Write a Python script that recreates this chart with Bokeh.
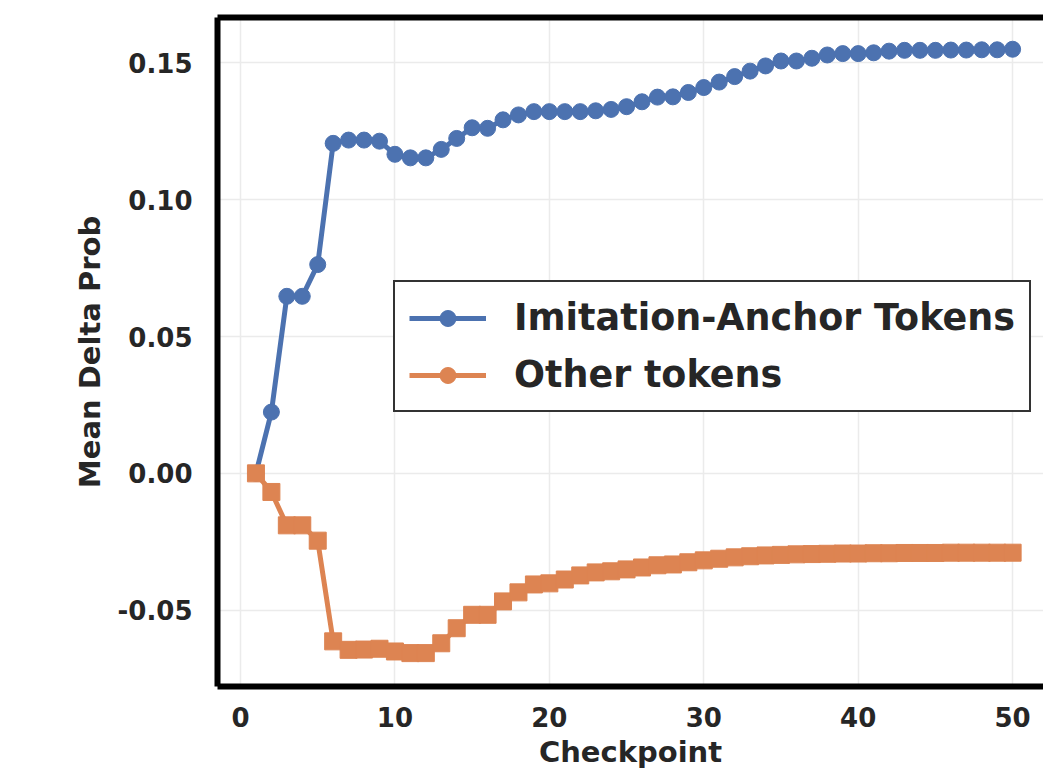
from bokeh.plotting import figure
from bokeh.models import Range1d, LinearAxis, FixedTicker, Legend, LegendItem, NumeralTickFormatter, ColumnDataSource
from bokeh.embed import file_html
from bokeh.resources import INLINE

# ---- data ----
checkpoints = list(range(1, 51))
anchor_tokens = [
    0.0000, 0.0224, 0.0647, 0.0647, 0.0763, 0.1206, 0.1218, 0.1218, 0.1214, 0.1166,
    0.1153, 0.1153, 0.1184, 0.1224, 0.1263, 0.1261, 0.1292, 0.1310, 0.1322, 0.1322,
    0.1322, 0.1322, 0.1325, 0.1330, 0.1340, 0.1358, 0.1375, 0.1376, 0.1392, 0.1410,
    0.1430, 0.1450, 0.1470, 0.1489, 0.1507, 0.1507, 0.1517, 0.1529, 0.1534, 0.1534,
    0.1537, 0.1543, 0.1546, 0.1546, 0.1546, 0.1547, 0.1547, 0.1548, 0.1548, 0.1550,
]
other_tokens = [
    0.0000, -0.0068, -0.0190, -0.0190, -0.0246, -0.0614, -0.0645, -0.0644, -0.0641, -0.0651,
    -0.0657, -0.0657, -0.0621, -0.0566, -0.0517, -0.0517, -0.0468, -0.0435, -0.0406, -0.0402,
    -0.0388, -0.0373, -0.0362, -0.0358, -0.0351, -0.0344, -0.0336, -0.0333, -0.0325, -0.0318,
    -0.0312, -0.0307, -0.0303, -0.0300, -0.0298, -0.0296, -0.0295, -0.0294, -0.0293, -0.0293,
    -0.0292, -0.0292, -0.0291, -0.0291, -0.0291, -0.0290, -0.0290, -0.0290, -0.0290, -0.0290,
]
x_ticks = [0, 10, 20, 30, 40, 50]
y_ticks = [-0.05, 0.0, 0.05, 0.10, 0.15]
series_labels = ["Imitation-Anchor Tokens", "Other tokens"]

BLUE = "#4c72b0"
ORANGE = "#dd8452"
TXT = "#262626"
FONT = "DejaVu Sans"

p = figure(width=1043, height=771,
           x_range=Range1d(-1.49, 52.0), y_range=Range1d(-0.0779, 0.1666),
           output_backend="svg", toolbar_location=None,
           min_border_left=217, min_border_right=0, min_border_top=17, min_border_bottom=0)
p.outline_line_color = None
p.background_fill_color = "white"

# axes
p.xaxis.ticker = FixedTicker(ticks=x_ticks)
p.yaxis.ticker = FixedTicker(ticks=y_ticks)
p.yaxis.formatter = NumeralTickFormatter(format="0.00")
for ax in (p.xaxis, p.yaxis):
    ax.axis_line_width = 6
    ax.axis_line_color = "black"
    ax.major_tick_line_color = None
    ax.minor_tick_line_color = None
    ax.major_label_text_font = FONT
    ax.major_label_text_font_style = "bold"
    ax.major_label_text_font_size = "26px"
    ax.major_label_text_color = TXT
    ax.axis_label_text_font = FONT
    ax.axis_label_text_font_style = "bold"
    ax.axis_label_text_font_size = "29px"
    ax.axis_label_text_color = TXT
p.xaxis.axis_label = "Checkpoint"
p.yaxis.axis_label = "Mean Delta Prob"
p.xaxis.major_label_standoff = 14
p.xaxis.axis_label_standoff = 5
p.yaxis.major_label_standoff = 19
p.yaxis.axis_label_standoff = 8

top = LinearAxis(ticker=FixedTicker(ticks=[]), axis_line_width=6, axis_line_color="black",
                 major_tick_line_color=None, minor_tick_line_color=None,
                 major_label_text_font_size="0px", major_label_standoff=0)
p.add_layout(top, "above")

# grid
p.xgrid.ticker = FixedTicker(ticks=x_ticks)
p.ygrid.ticker = FixedTicker(ticks=y_ticks)
p.grid.grid_line_color = "#ebebeb"
p.grid.grid_line_width = 1.5

src = ColumnDataSource(dict(x=checkpoints, a=anchor_tokens, o=other_tokens))
p.line("x", "a", source=src, line_color=BLUE, line_width=5)
p.scatter("x", "a", source=src, marker="circle", size=16, fill_color=BLUE, line_color=BLUE)
p.line("x", "o", source=src, line_color=ORANGE, line_width=5)
p.scatter("x", "o", source=src, marker="square", size=17, fill_color=ORANGE, line_color=ORANGE)

# legend-only renderers (smaller markers like the reference legend), placed off-range
off = ColumnDataSource(dict(x=[-100, -99], y=[-100, -100]))
lb = p.line("x", "y", source=off, line_color=BLUE, line_width=5)
mb = p.scatter("x", "y", source=off, marker="circle", size=7, fill_color=BLUE, line_color=BLUE)
lo = p.line("x", "y", source=off, line_color=ORANGE, line_width=5)
mo = p.scatter("x", "y", source=off, marker="circle", size=7, fill_color=ORANGE, line_color=ORANGE)

legend = Legend(items=[LegendItem(label=series_labels[0], renderers=[lb, mb], index=0),
                       LegendItem(label=series_labels[1], renderers=[lo, mo], index=0)],
                location=(176, 274),
                label_text_font=FONT, label_text_font_style="bold",
                label_text_font_size="36.5px", label_text_color=TXT,
                glyph_width=77, glyph_height=40, label_standoff=28,
                padding=14, spacing=14, margin=0,
                border_line_color="#333333", border_line_width=2, border_line_alpha=1,
                background_fill_color="white", background_fill_alpha=1)
p.add_layout(legend)

open("out.html", "w").write(file_html(p, INLINE))
